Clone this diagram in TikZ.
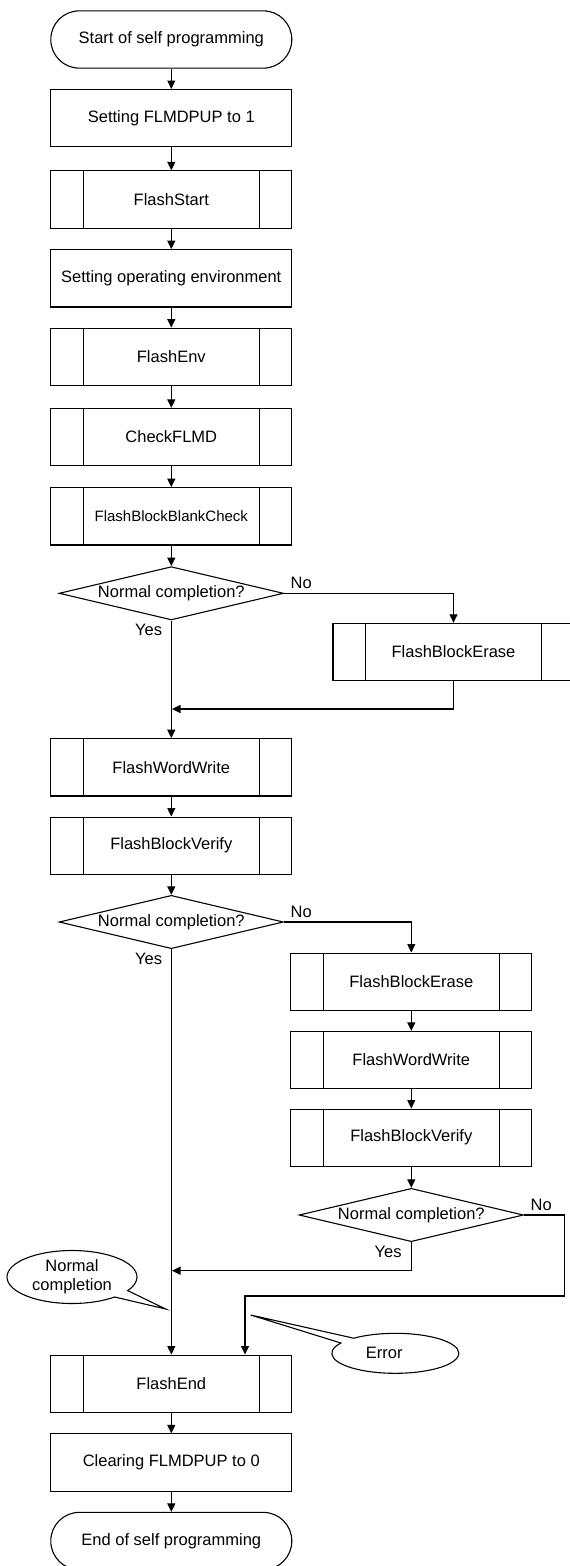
\documentclass[tikz,border=0pt]{standalone}
\usepackage{fontspec}
\setmainfont{Liberation Sans}
\usetikzlibrary{arrows.meta,shapes.geometric,shapes.callouts,calc}
\begin{document}
\begin{tikzpicture}[x=1pt,y=-1pt,
  every node/.style={font=\fontsize{16.5}{19}\selectfont},
  base/.style={draw, line width=1.1pt, inner sep=0pt, minimum width=241pt, minimum height=57.3pt},
  proc/.style={base, rectangle},
  term/.style={base, rectangle, rounded corners=28.5pt},
  subr/.style={base, rectangle, path picture={
     \draw[line width=1.1pt] ([xshift=32.6pt]path picture bounding box.north west) -- ([xshift=32.6pt]path picture bounding box.south west)
       ([xshift=-32.6pt]path picture bounding box.north east) -- ([xshift=-32.6pt]path picture bounding box.south east);}},
  dec/.style={draw, diamond, line width=1.1pt, inner sep=0pt, aspect=4.2, minimum width=224.3pt, minimum height=53.3pt},
  arr/.style={line width=1.1pt, -{Triangle[length=8.5pt,width=8pt]}},
  lbl/.style={inner sep=0pt},
  bubble/.style={ellipse callout, draw, line width=1.1pt, inner sep=0pt, align=center, callout pointer arc=18}
]
\useasboundingbox (0,0) rectangle (570,1566);

% main column
\node[term] (start) at (171.3,39.5) {Start of self programming};
\node[proc] (set1) at (171.3,118.2) {Setting FLMDPUP to 1};
\node[subr] (fstart) at (171.3,199.5) {FlashStart};
\node[proc] (env) at (171.3,278.3) {Setting operating environment};
\node[subr] (fenv) at (171.3,356.8) {FlashEnv};
\node[subr] (chk) at (171.3,437) {CheckFLMD};
\node[subr, font=\fontsize{15}{18}\selectfont] (fbbc) at (171.3,516.3) {FlashBlockBlankCheck};
\node[dec] (d1) at (171.3,593.3) {Normal completion?};
\node[subr] (fbe1) at (453.5,652) {FlashBlockErase};
\node[subr] (fww) at (171.3,767.3) {FlashWordWrite};
\node[subr] (fbv) at (171.3,845.7) {FlashBlockVerify};
\node[dec] (d2) at (171.3,922) {Normal completion?};
\node[subr] (fbe2) at (411.3,981.7) {FlashBlockErase};
\node[subr] (fww2) at (411.3,1060) {FlashWordWrite};
\node[subr] (fbv2) at (411.3,1137.7) {FlashBlockVerify};
\node[dec] (d3) at (411.3,1215) {Normal completion?};
\node[subr] (fend) at (171.3,1383.7) {FlashEnd};
\node[proc] (clr) at (171.3,1462.5) {Clearing FLMDPUP to 0};
\node[term] (end) at (171.3,1541) {End of self programming};

% labels
\node[lbl, anchor=base west] (no1) at ($(d1.east)+(6.5,-5)$) {No};
\node[lbl, anchor=base east] (yes1) at ($(d1.south)+(-9,15)$) {Yes};
\node[lbl, anchor=base west] (no2) at ($(d2.east)+(6.5,-5)$) {No};
\node[lbl, anchor=base east] (yes2) at ($(d2.south)+(-9,15)$) {Yes};
\node[lbl, anchor=base west] (no3) at ($(d3.east)+(6.5,-5)$) {No};
\node[lbl, anchor=base east] (yes3) at ($(d3.south)+(-9.5,15.6)$) {Yes};

% junction coordinates
\coordinate (j1) at (172,709);
\coordinate (j2) at (172,1270.7);
\coordinate (n3a) at (564.4,1296);
\coordinate (n3b) at (245,1296);
\coordinate (ncp) at (165.7,1309);
\coordinate (erp) at (250.7,1315);

% connectors
\draw[arr] (start) -- (set1);
\draw[arr] (set1) -- (fstart);
\draw[arr] (fstart) -- (env);
\draw[arr] (env) -- (fenv);
\draw[arr] (fenv) -- (chk);
\draw[arr] (chk) -- (fbbc);
\draw[arr] (fbbc) -- (d1);
\draw[arr] (d1.east) -| (fbe1.north);
\draw[arr] (fbe1.south) |- (j1);
\draw[arr] (d1.south) -- (fww.north);
\draw[arr] (fww) -- (fbv);
\draw[arr] (fbv) -- (d2);
\draw[arr] (d2.east) -| (fbe2.north);
\draw[arr] (fbe2) -- (fww2);
\draw[arr] (fww2) -- (fbv2);
\draw[arr] (fbv2) -- (d3);
\draw[arr] (d3.south) |- (j2);
\draw[arr] (d3.east) -| (n3a) -- (n3b) -- (n3b |- fend.north);
\draw[arr] (d2.south) -- (fend.north);
\draw[arr] (fend) -- (clr);
\draw[arr] (clr) -- (end);

% callouts
\node[bubble, minimum width=130pt, minimum height=53pt, callout absolute pointer={(ncp)}] (nc) at (72,1277) {Normal\\completion};
\node[bubble, minimum width=127pt, minimum height=40pt, callout absolute pointer={(erp)}] (err) at (395.3,1353.3) {Error\hspace*{22pt}};
\end{tikzpicture}
\end{document}
